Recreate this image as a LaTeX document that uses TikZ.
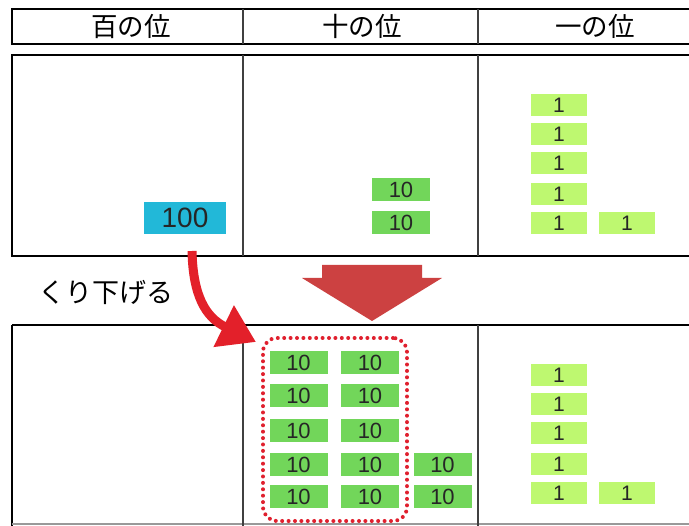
\documentclass[tikz,border=0pt]{standalone}
\usepackage{fontspec}
\newfontfamily\jp{Noto Sans CJK JP}
\setmainfont{Liberation Sans}
\usetikzlibrary{arrows.meta}
\definecolor{hundblue}{HTML}{22B8D8}
\definecolor{tengreen}{HTML}{72D65A}
\definecolor{onegreen}{HTML}{BEF870}
\definecolor{bigred}{HTML}{CC4141}
\definecolor{curvred}{HTML}{E3202A}
\definecolor{dotred}{HTML}{E0202E}
\begin{document}
\begin{tikzpicture}[x=1pt,y=-1pt,
  frame/.style={draw=black,line width=2pt},
  divider/.style={draw=black!75,line width=1.1pt},
  hdr/.style={font=\jp\fontsize{26.5}{26.5}\selectfont,anchor=center},
  blk/.style={inner sep=0pt,outer sep=0pt,minimum height=23pt,minimum width=58pt,text=black!85,font=\fontsize{22}{22}\selectfont},
  hund/.style={blk,fill=hundblue,minimum width=82pt,minimum height=32pt,font=\fontsize{28}{28}\selectfont},
  ten/.style={blk,fill=tengreen},
  one/.style={blk,fill=onegreen,minimum width=56pt,minimum height=22pt,font=\fontsize{21}{21}\selectfont},
  groupbox/.style={draw=dotred,line width=4pt,dash pattern=on 0pt off 6.4pt,line cap=round,rounded corners=14pt,inner sep=0pt,minimum width=144pt,minimum height=183pt},
  curvearrow/.style={draw=curvred,line width=9pt,-{Triangle[length=36pt,width=44pt]}},
]
\clip (0,0) rectangle (689,526);
\fill[white] (0,0) rectangle (689,526);
% header
\draw[frame] (12,9) rectangle (720,44);
\draw[divider] (243,9) -- (243,44);
\draw[divider] (478,9) -- (478,44);
\node[hdr] (h1) at (131,26) {百の位};
\node[hdr] (h2) at (362,26) {十の位};
\node[hdr] (h3) at (595,26) {一の位};
% top table
\draw[frame] (12,55) rectangle (720,256);
\draw[divider] (243,55) -- (243,256);
\draw[divider] (478,55) -- (478,256);
\node[hund] (c100) at (185,218) {100};
\node[ten] (t1) at (401,189.5) {10};
\node[ten] (t2) at (401,223) {10};
\node[one] (o1) at (559,105.5) {1};
\node[one] (o2) at (559,134) {1};
\node[one] (o3) at (559,163) {1};
\node[one] (o4) at (559,194) {1};
\node[one] (o5) at (559,223) {1};
\node[one] (o6) at (627,223) {1};
% big arrow
\fill[bigred] (322,265) -- (422,265) -- (422,278) -- (442,278) -- (372,321) -- (302,278) -- (322,278) -- cycle;
% label
\node[font=\jp\fontsize{27}{27}\selectfont] (lbl) at (106,292) {くり下げる};
% bottom table
\draw[line width=2pt] (12,325) -- (720,325);
\draw[line width=2pt] (12,325) -- (12,526);
\draw[draw=black!40,line width=1.2pt] (12,524) -- (720,524);
\draw[divider] (243,325) -- (243,526);
\draw[divider] (478,325) -- (478,526);
\node[ten] (b11) at (298.5,363) {10};
\node[ten] (b12) at (298.5,395.5) {10};
\node[ten] (b13) at (298.5,430.5) {10};
\node[ten] (b14) at (298.5,464.5) {10};
\node[ten] (b15) at (298.5,496.5) {10};
\node[ten] (b21) at (370,363) {10};
\node[ten] (b22) at (370,395.5) {10};
\node[ten] (b23) at (370,430.5) {10};
\node[ten] (b24) at (370,464.5) {10};
\node[ten] (b25) at (370,496.5) {10};
\node[ten] (b34) at (442.5,464.5) {10};
\node[ten] (b35) at (442.5,496.5) {10};
\node[one] (p1) at (559,375) {1};
\node[one] (p2) at (559,404) {1};
\node[one] (p3) at (559,433) {1};
\node[one] (p4) at (559,464) {1};
\node[one] (p5) at (559,493) {1};
\node[one] (p6) at (627,493) {1};
\node[groupbox] (grp) at (335,429.5) {};
% curved arrow
\coordinate (tail) at (192,251);
\coordinate (tip) at (256,342);
\draw[curvearrow] (tail) .. controls (193,295) and (205,317) .. (tip);
\end{tikzpicture}
\end{document}
